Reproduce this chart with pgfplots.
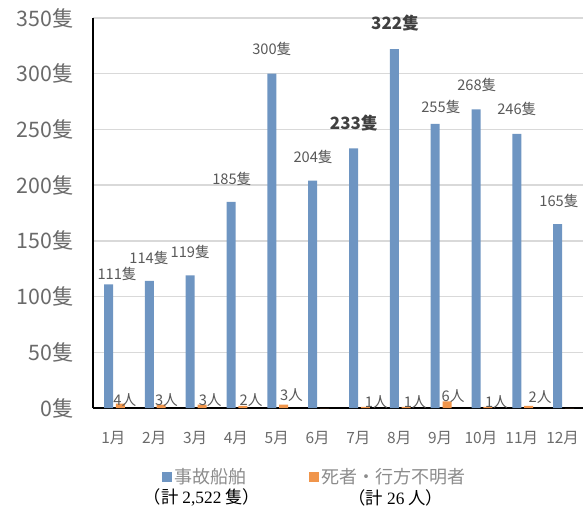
\documentclass[border=0pt]{standalone}
\usepackage{pgfplots}
\pgfplotsset{compat=1.18}
\usepackage{pgfplotstable}
\usepackage{fontspec}
\setmainfont{Noto Sans CJK JP}
\newfontfamily\latinserif{Liberation Serif}

\definecolor{shipblue}{HTML}{6E95C2}
\definecolor{lossorange}{HTML}{F0954B}
\definecolor{tickgray}{HTML}{6A6A6A}
\definecolor{labelgray}{HTML}{595959}
\definecolor{gridgray}{HTML}{D9D9D9}
\definecolor{legendgray}{HTML}{8C8C8C}
\definecolor{boldgray}{HTML}{404040}

% month index, vessels in accidents, dead or missing persons
\pgfplotstableread{
m ships people
0  111 4
1  114 3
2  119 3
3  185 2
4  300 3
5  204 0
6  233 1
7  322 1
8  255 6
9  268 1
10 246 2
11 165 0
}\monthly

\tikzset{
  vlab/.style={font=\fontsize{11}{11}\selectfont, text=labelgray, inner sep=0pt},
  blab/.style={font=\fontsize{12.7}{13}\selectfont\bfseries, text=boldgray, inner sep=0pt},
}

\begin{document}
\begin{tikzpicture}
\begin{axis}[
  scale only axis, width=367.5pt, height=292.5pt,
  at={(0,0)}, anchor=south west,
  xmin=-0.5, xmax=11.5, ymin=0, ymax=350,
  axis x line=bottom, axis y line=left,
  axis line style={black, line width=1.5pt, -},
  ytick={0,50,...,350},
  yticklabels={0隻,50隻,100隻,150隻,200隻,250隻,300隻,350隻},
  xtick={0,...,11},
  xticklabels={1月,2月,3月,4月,5月,6月,7月,8月,9月,10月,11月,12月},
  major tick length=0pt,
  ymajorgrids, grid style={gridgray, line width=1pt},
  ticklabel style={text=tickgray},
  yticklabel style={font=\fontsize{16}{16}\selectfont, xshift=-11pt},
  xticklabel style={font=\fontsize{11.6}{12}\selectfont, yshift=-14pt},
  ybar, bar width=0.22,
  clip=false,
  legend columns=2,
  legend style={at={(0.1408,-0.177)}, anchor=west, draw=none, fill=none,
    inner sep=0pt, font=\fontsize{13.5}{14}\selectfont, text=legendgray,
    /tikz/every even column/.append style={column sep=44.5pt}},
  legend image code/.code={\fill[#1] (0pt,-3.75pt) rectangle (7.5pt,3.75pt);},
]
\addplot[fill=shipblue, draw=none, bar shift=-0.12] table[x=m, y=ships] {\monthly};
\addplot[fill=lossorange, draw=none, bar shift=0.17] table[x=m, y=people] {\monthly};
\legend{事故船舶, 死者・行方不明者}

% vessel counts
\node[vlab] at (axis cs:0.09,120) {111隻};
\node[vlab] at (axis cs:0.87,135) {114隻};
\node[vlab] at (axis cs:1.88,140) {119隻};
\node[vlab] at (axis cs:2.90,206) {185隻};
\node[vlab] at (axis cs:3.88,322) {300隻};
\node[vlab] at (axis cs:4.89,225) {204隻};
\node[blab] at (axis cs:5.89,256) {233隻};
\node[blab] at (axis cs:6.90,345.5) {322隻};
\node[vlab] at (axis cs:8.02,270) {255隻};
\node[vlab] at (axis cs:8.90,290) {268隻};
\node[vlab] at (axis cs:9.88,268) {246隻};
\node[vlab] at (axis cs:10.91,186) {165隻};

% persons dead or missing
\node[vlab] at (axis cs:0.28,7.2) {4人};
\node[vlab] at (axis cs:1.30,7.2) {3人};
\node[vlab] at (axis cs:2.37,7.2) {3人};
\node[vlab] at (axis cs:3.37,7.2) {2人};
\node[vlab] at (axis cs:4.36,11.5) {3人};
\node[vlab] at (axis cs:6.44,5.4) {1人};
\node[vlab] at (axis cs:7.39,5.4) {1人};
\node[vlab] at (axis cs:8.32,10.8) {6人};
\node[vlab] at (axis cs:9.38,5.4) {1人};
\node[vlab] at (axis cs:10.45,10) {2人};

% yearly totals under the legend
\node[font=\fontsize{13}{13}\selectfont, text=black, inner sep=0pt]
  at (axis description cs:0.2224,-0.230) {（計 {\latinserif 2,522} 隻）};
\node[font=\fontsize{13}{13}\selectfont, text=black, inner sep=0pt]
  at (axis description cs:0.618,-0.230) {（計 {\latinserif 26} 人）};
\end{axis}
\pgfresetboundingbox
\path[use as bounding box] (-69.75pt,-77.25pt) rectangle (367.5pt,306pt);
\end{tikzpicture}
\end{document}
